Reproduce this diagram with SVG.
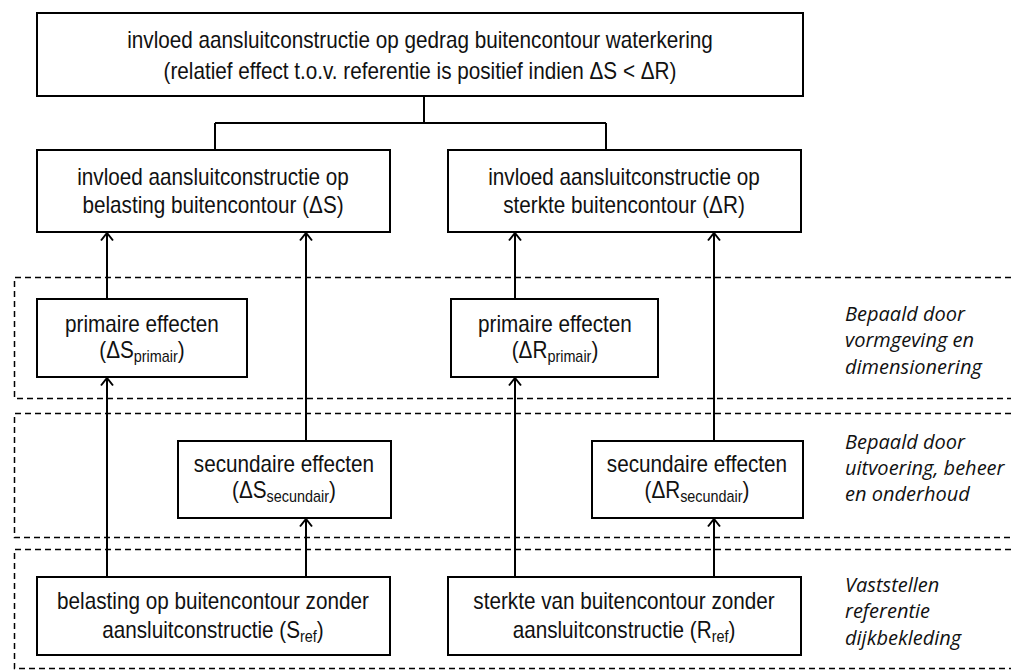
<svg xmlns="http://www.w3.org/2000/svg" width="1011" height="670" viewBox="0 0 1011 670">
<defs>
<marker id="arr" viewBox="0 0 10 14" refX="9" refY="7" markerWidth="10" markerHeight="14" markerUnits="userSpaceOnUse" orient="auto">
<path d="M1.5,1 L9,7 L1.5,13" fill="none" stroke="#000" stroke-width="2"/>
</marker>
<style>
.box{fill:#fff;stroke:#000;stroke-width:2}
.t{font-family:"Liberation Sans",Arial,sans-serif;font-size:23px;fill:#111;text-anchor:middle;transform-box:fill-box;transform-origin:center;transform:scaleX(0.9)}
.sub{font-size:16px}
.lab{font-family:"Open Sans","DejaVu Sans",sans-serif;font-style:italic;font-size:20px;fill:#111}
.dash{fill:none;stroke:#000;stroke-width:1.5;stroke-dasharray:6,4}
.c{fill:none;stroke:#000;stroke-width:2}
</style>
</defs>
<rect width="1011" height="670" fill="#fff"/>
<g id="zones">
<path class="dash" d="M1011,277.5 H14.5 V398.5 H1011"/>
<path class="dash" d="M1011,413.5 H14.5 V537.5 H1011"/>
<path class="dash" d="M1011,549.5 H14.5 V668.5 H1011"/>
</g>
<g id="connectors">
<path class="c" d="M424,96 V123 M215,123 H606 M215,123 V150 M606,123 V150"/>
<line class="c" x1="107" y1="299" x2="107" y2="233" marker-end="url(#arr)"/>
<line class="c" x1="107" y1="577" x2="107" y2="378" marker-end="url(#arr)"/>
<line class="c" x1="306" y1="441" x2="306" y2="233" marker-end="url(#arr)"/>
<line class="c" x1="306" y1="577" x2="306" y2="519" marker-end="url(#arr)"/>
<line class="c" x1="515" y1="299" x2="515" y2="233" marker-end="url(#arr)"/>
<line class="c" x1="515" y1="577" x2="515" y2="378" marker-end="url(#arr)"/>
<line class="c" x1="714" y1="441" x2="714" y2="233" marker-end="url(#arr)"/>
<line class="c" x1="714" y1="577" x2="714" y2="519" marker-end="url(#arr)"/>
</g>
<g id="top">
<rect class="box" x="37" y="13" width="766" height="83"/>
<text class="t" x="420" y="48">invloed aansluitconstructie op gedrag buitencontour waterkering</text>
<text class="t" x="420" y="79">(relatief effect t.o.v. referentie is positief indien ΔS &lt; ΔR)</text>
</g>
<g id="deltaS">
<rect class="box" x="37" y="150" width="353" height="82"/>
<text class="t" x="213" y="185">invloed aansluitconstructie op</text>
<text class="t" x="213" y="213">belasting buitencontour (ΔS)</text>
</g>
<g id="deltaR">
<rect class="box" x="448" y="150" width="353" height="82"/>
<text class="t" x="624" y="185">invloed aansluitconstructie op</text>
<text class="t" x="624" y="213">sterkte buitencontour (ΔR)</text>
</g>
<g id="primS">
<rect class="box" x="37" y="299" width="210" height="78"/>
<text class="t" x="142" y="332">primaire effecten</text>
<text class="t" x="142" y="358">(ΔS<tspan class="sub" dy="4">primair</tspan><tspan dy="-4">)</tspan></text>
</g>
<g id="primR">
<rect class="box" x="451" y="299" width="207" height="78"/>
<text class="t" x="555" y="332">primaire effecten</text>
<text class="t" x="555" y="358">(ΔR<tspan class="sub" dy="4">primair</tspan><tspan dy="-4">)</tspan></text>
</g>
<g id="secS">
<rect class="box" x="178" y="441" width="213" height="77"/>
<text class="t" x="284" y="472">secundaire effecten</text>
<text class="t" x="284" y="498">(ΔS<tspan class="sub" dy="4">secundair</tspan><tspan dy="-4">)</tspan></text>
</g>
<g id="secR">
<rect class="box" x="592" y="441" width="211" height="77"/>
<text class="t" x="697" y="472">secundaire effecten</text>
<text class="t" x="697" y="498">(ΔR<tspan class="sub" dy="4">secundair</tspan><tspan dy="-4">)</tspan></text>
</g>
<g id="Sref">
<rect class="box" x="37" y="577" width="353" height="78"/>
<text class="t" x="213" y="609">belasting op buitencontour zonder</text>
<text class="t" x="213" y="638">aansluitconstructie (S<tspan class="sub" dy="4">ref</tspan><tspan dy="-4">)</tspan></text>
</g>
<g id="Rref">
<rect class="box" x="448" y="577" width="353" height="78"/>
<text class="t" x="624" y="609">sterkte van buitencontour zonder</text>
<text class="t" x="624" y="638">aansluitconstructie (R<tspan class="sub" dy="4">ref</tspan><tspan dy="-4">)</tspan></text>
</g>
<g id="labels">
<text class="lab" x="845" y="321">Bepaald door</text>
<text class="lab" x="845" y="347">vormgeving en</text>
<text class="lab" x="845" y="374">dimensionering</text>
<text class="lab" x="845" y="449">Bepaald door</text>
<text class="lab" x="845" y="475">uitvoering, beheer</text>
<text class="lab" x="845" y="501">en onderhoud</text>
<text class="lab" x="845" y="592">Vaststellen</text>
<text class="lab" x="845" y="618">referentie</text>
<text class="lab" x="845" y="645">dijkbekleding</text>
</g>
</svg>
